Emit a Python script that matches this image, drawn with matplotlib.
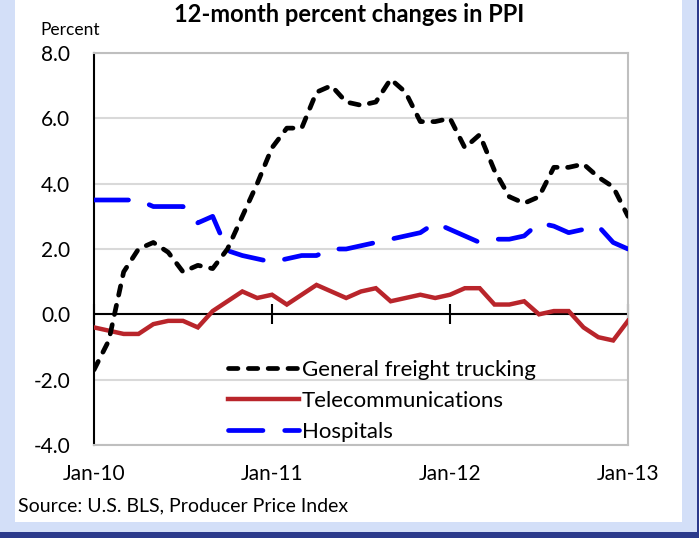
import matplotlib
matplotlib.use("Agg")
import matplotlib.pyplot as plt
from matplotlib.patches import Rectangle
import numpy as np

plt.rcParams['font.family'] = ['Lato', 'DejaVu Sans']

# monthly, Jan-10 .. Jan-13
tick_labels = ['Jan-10', 'Jan-11', 'Jan-12', 'Jan-13']

trucking = [-1.7, -0.8, 1.3, 2.0, 2.2, 1.9, 1.3, 1.5, 1.4, 2.0, 3.0, 4.0,
            5.1, 5.7, 5.7, 6.8, 7.0, 6.5, 6.4, 6.5, 7.2, 6.8, 5.9, 5.9,
            6.0, 5.1, 5.5, 4.4, 3.6, 3.4, 3.6, 4.5, 4.5, 4.6, 4.2, 3.9,
            3.0]
telecom = [-0.4, -0.5, -0.6, -0.6, -0.3, -0.2, -0.2, -0.4, 0.1, 0.4, 0.7, 0.5,
           0.6, 0.3, 0.6, 0.9, 0.7, 0.5, 0.7, 0.8, 0.4, 0.5, 0.6, 0.5,
           0.6, 0.8, 0.8, 0.3, 0.3, 0.4, 0.0, 0.1, 0.1, -0.4, -0.7, -0.8,
           -0.2]
hospitals = [3.5, 3.5, 3.5, 3.5, 3.3, 3.3, 3.3, 2.8, 3.0, 1.95, 1.8, 1.7,
             1.6, 1.7, 1.8, 1.8, 2.0, 2.0, 2.1, 2.2, 2.3, 2.4, 2.5, 2.8,
             2.6, 2.4, 2.2, 2.3, 2.3, 2.4, 2.8, 2.7, 2.5, 2.6, 2.7, 2.2,
             2.0]

months = np.arange(len(trucking))

fig = plt.figure(figsize=(6.99, 5.38), dpi=100)
fig.patch.set_facecolor('#D3DFF8')
# white panel + navy edges
fig.patches.append(Rectangle((15/699, 16/538), (682-15)/699, 1 - 16/538,
                             transform=fig.transFigure, facecolor='white', edgecolor='none', zorder=-5))
fig.patches.append(Rectangle((0, 0), 1, 6/538, transform=fig.transFigure,
                             facecolor='#2B3A8C', edgecolor='none', zorder=-5))
fig.patches.append(Rectangle((697/699, 0), 2/699, 1, transform=fig.transFigure,
                             facecolor='#2B3A8C', edgecolor='none', zorder=-5))

ax = fig.add_axes([94/699, (538-445)/538, (628-94)/699, (445-53)/538])
ax.set_facecolor('none')

ax.axhline(0, color='black', lw=1.5, zorder=2)

ax.plot(months, trucking, color='black', lw=3.4, linestyle=(0, (2.0, 2.2)),
        dash_capstyle='round', label='General freight trucking', zorder=4)
ax.plot(months, telecom, color='#B9252B', lw=3.2, solid_joinstyle='miter',
        label='Telecommunications', zorder=3)
ax.plot(months, hospitals, color='#0000FF', lw=3.4, linestyle=(0, (7.3, 4.6)),
        dash_capstyle='round', label='Hospitals', zorder=3)

ax.set_xlim(0, 36)
ax.set_ylim(-4, 8)
ax.set_yticks(np.arange(-4, 9, 2))
ax.set_yticklabels([f'{v:.1f}' for v in np.arange(-4, 9, 2)])
ax.set_xticks([0, 12, 24, 36])
ax.set_xticklabels(tick_labels)
ax.tick_params(axis='both', length=0, labelsize=15, colors='black')
ax.tick_params(axis='y', pad=17)
ax.tick_params(axis='x', pad=14)

ax.grid(axis='y', color='#D9D9D9', lw=1.5, zorder=0)
ax.set_axisbelow(True)
for s in ['top', 'right', 'bottom']:
    ax.spines[s].set_color('#BFBFBF')
    ax.spines[s].set_linewidth(1.5)
ax.spines['left'].set_color('black')
ax.spines['left'].set_linewidth(1.5)

# tick marks on the zero line
zax = ax.secondary_xaxis(4/12)
zax.set_xticks([0, 12, 24, 36])
zax.set_xticklabels([])
zax.tick_params(direction='inout', length=14, width=1.5, color='black')
zax.spines['bottom'].set_visible(False)

ax.legend(loc='upper left', bbox_to_anchor=(0.251, 0.217), frameon=False, fontsize=16,
          handlelength=3.2, handletextpad=0.12, labelspacing=0.5, borderpad=0, borderaxespad=0)

fig.text(0.5, 1 - 14/538, '12-month percent changes in PPI', ha='center', va='center',
         fontsize=17.0, fontweight='bold')
fig.text(40/699, 1 - 30/538, 'Percent', ha='left', va='center', fontsize=12.5)
fig.text(18/699, 1 - 506/538, 'Source: U.S. BLS, Producer Price Index', ha='left', va='center',
         fontsize=14)

fig.savefig('out.png', dpi=100, facecolor=fig.get_facecolor())
